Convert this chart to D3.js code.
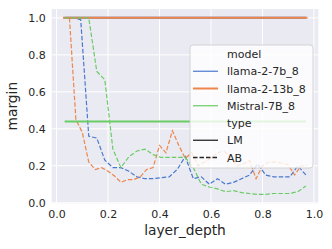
<!DOCTYPE html>
<html>
<head>
<meta charset="utf-8">
<script src="https://cdn.jsdelivr.net/npm/d3@7"></script>
<style>
  body { margin: 0; background: #fff; }
  text { font-family: "DejaVu Sans", sans-serif; fill: #262626; }
</style>
</head>
<body>
<div id="chart"></div>
<script>
// layer_depth = i / n_layers
const depth7b = d3.range(1, 32).map(i => i / 32);
const depth13b = d3.range(1, 40).map(i => i / 40);

const llama7bLM = depth7b.map(() => 1.0);
const llama7bAB = [1.0, 1.0, 0.99, 0.36, 0.35, 0.23, 0.19, 0.19, 0.17, 0.14,
  0.13, 0.13, 0.135, 0.14, 0.18, 0.25, 0.13, 0.14, 0.10, 0.13,
  0.10, 0.11, 0.13, 0.15, 0.21, 0.15, 0.14, 0.14, 0.14, 0.20, 0.15];
const llama13bLM = depth13b.map(() => 1.0);
const llama13bAB = [1.0, 1.0, 0.45, 0.38, 0.22, 0.18, 0.19, 0.17, 0.145, 0.11,
  0.125, 0.125, 0.14, 0.18, 0.19, 0.31, 0.27, 0.39, 0.31, 0.24,
  0.27, 0.20, 0.22, 0.24, 0.27, 0.28, 0.25, 0.20, 0.21, 0.23,
  0.13, 0.20, 0.22, 0.22, 0.215, 0.205, 0.15, 0.20, 0.20];
const mistralLM = depth7b.map(() => 0.44);
const mistralAB = [1.0, 1.0, 1.0, 1.0, 0.71, 0.665, 0.29, 0.19, 0.25, 0.28,
  0.29, 0.26, 0.245, 0.245, 0.245, 0.245, 0.19, 0.10, 0.085, 0.075,
  0.06, 0.065, 0.055, 0.05, 0.045, 0.045, 0.05, 0.05, 0.05, 0.06, 0.09];

const models = ["llama-2-7b_8", "llama-2-13b_8", "Mistral-7B_8"];
const colors = ["#4878d0", "#ee854a", "#6acc64"];
const xTicks = [0.0, 0.2, 0.4, 0.6, 0.8, 1.0];
const yTicks = [0.0, 0.2, 0.4, 0.6, 0.8, 1.0];

const series = [
  {model: 0, type: "LM", x: depth7b, y: llama7bLM},
  {model: 0, type: "AB", x: depth7b, y: llama7bAB},
  {model: 1, type: "LM", x: depth13b, y: llama13bLM},
  {model: 1, type: "AB", x: depth13b, y: llama13bAB},
  {model: 2, type: "LM", x: depth7b, y: mistralLM},
  {model: 2, type: "AB", x: depth7b, y: mistralAB}
];

const W = 332, H = 249;
const plot = {left: 51.7, right: 318.3, top: 9, bottom: 203.3};

const svg = d3.select("#chart").append("svg")
  .attr("width", W).attr("height", H);

const x = d3.scaleLinear().domain([-0.019, 1.017]).range([plot.left, plot.right]);
const y = d3.scaleLinear().domain([-0.003, 1.048]).range([plot.bottom, plot.top]);

svg.append("rect")
  .attr("x", plot.left).attr("y", plot.top)
  .attr("width", plot.right - plot.left).attr("height", plot.bottom - plot.top)
  .attr("fill", "#eaeaf2");

// grid
svg.append("g").selectAll("line").data(xTicks).enter().append("line")
  .attr("x1", d => x(d)).attr("x2", d => x(d))
  .attr("y1", plot.top).attr("y2", plot.bottom)
  .attr("stroke", "#fff").attr("stroke-width", 1);
svg.append("g").selectAll("line").data(yTicks).enter().append("line")
  .attr("y1", d => y(d)).attr("y2", d => y(d))
  .attr("x1", plot.left).attr("x2", plot.right)
  .attr("stroke", "#fff").attr("stroke-width", 1);

// axes (labels only, seaborn darkgrid style)
const xAxis = svg.append("g")
  .attr("transform", `translate(0,${plot.bottom})`)
  .call(d3.axisBottom(x).tickValues(xTicks).tickFormat(d3.format(".1f")).tickSize(0).tickPadding(7));
const yAxis = svg.append("g")
  .attr("transform", `translate(${plot.left},0)`)
  .call(d3.axisLeft(y).tickValues(yTicks).tickFormat(d3.format(".1f")).tickSize(0).tickPadding(6));
[xAxis, yAxis].forEach(a => {
  a.select(".domain").remove();
  a.selectAll("text").style("font-size", "11px").style("font-family", "DejaVu Sans").attr("fill", "#262626");
});

// lines
const line = d3.line();
series.forEach(s => {
  const pts = s.x.map((d, i) => [x(d), y(s.y[i])]);
  svg.append("path")
    .attr("d", line(pts))
    .attr("fill", "none")
    .attr("stroke", colors[s.model])
    .attr("stroke-width", s.type === "LM" ? 2 : 1.2)
    .attr("stroke-dasharray", s.type === "AB" ? "4.5,2" : null);
});

// axis titles
svg.append("text")
  .attr("x", (plot.left + plot.right) / 2).attr("y", 235)
  .attr("text-anchor", "middle").style("font-size", "13.8px")
  .text("layer_depth");
svg.append("text")
  .attr("transform", `translate(17,${(plot.top + plot.bottom) / 2}) rotate(-90)`)
  .attr("text-anchor", "middle").style("font-size", "13.8px")
  .text("margin");

// legend
const leg = svg.append("g");
leg.append("rect")
  .attr("x", 190).attr("y", 45).attr("width", 123).attr("height", 123)
  .attr("rx", 3)
  .attr("fill", "#ffffff").attr("fill-opacity", 0.8)
  .attr("stroke", "#cccccc").attr("stroke-width", 0.8);

const legItems = [
  {label: "model"},
  {label: models[0], color: colors[0], w: 1.2},
  {label: models[1], color: colors[1], w: 2},
  {label: models[2], color: colors[2], w: 1.2},
  {label: "type"},
  {label: "LM", color: "#262626", w: 1.3},
  {label: "AB", color: "#262626", w: 1.3, dash: "4.5,2"}
];
legItems.forEach((d, i) => {
  const cy = 54 + i * 17.25;
  if (d.color) {
    leg.append("line")
      .attr("x1", 193).attr("x2", 218).attr("y1", cy).attr("y2", cy)
      .attr("stroke", d.color).attr("stroke-width", d.w)
      .attr("stroke-dasharray", d.dash || null);
  }
  leg.append("text")
    .attr("x", 227).attr("y", cy + 4)
    .style("font-size", "11px")
    .text(d.label);
});
</script>
</body>
</html>
